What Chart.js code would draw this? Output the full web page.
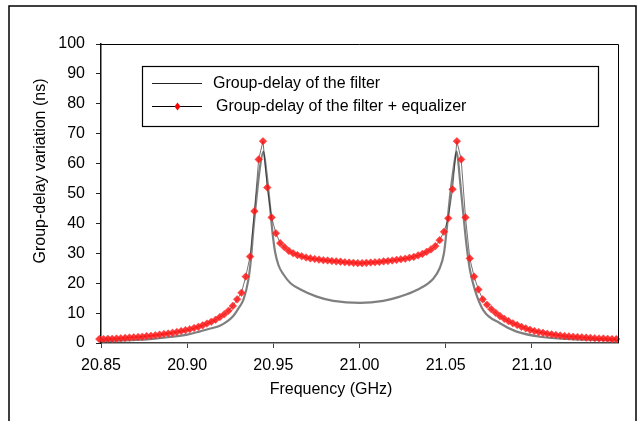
<!DOCTYPE html>
<html>
<head>
<meta charset="utf-8">
<script src="https://cdn.jsdelivr.net/npm/chart.js@4/dist/chart.umd.min.js"></script>
<style>
html,body{margin:0;padding:0;background:#fff;}
#wrap{position:relative;width:643px;height:421px;}
canvas{display:block;}
</style>
</head>
<body>
<div id="wrap"><canvas id="c" width="643" height="421"></canvas></div>
<script>
// ---- data ----
const xTitle = "Frequency (GHz)";
const yTitle = "Group-delay variation (ns)";
const seriesNames = ["Group-delay of the filter", "Group-delay of the filter + equalizer"];
const xTickValues = [20.85, 20.90, 20.95, 21.00, 21.05, 21.10];
const yTickValues = [0, 10, 20, 30, 40, 50, 60, 70, 80, 90, 100];

// filter alone (grey line)
const filterFreq = [20.85, 20.86, 20.87, 20.88, 20.89, 20.90, 20.907, 20.912, 20.919, 20.924, 20.927, 20.930, 20.9326, 20.9355, 20.937, 20.9384, 20.9403, 20.9423, 20.9442, 20.946, 20.948, 20.9495, 20.951, 20.953, 20.9558, 20.960, 20.9655, 20.9752, 20.9848, 21.0003, 21.0138, 21.0235, 21.0332, 21.0428, 21.0465, 21.049, 21.0506, 21.0525, 21.0545, 21.0564, 21.0583, 21.0602, 21.0622, 21.0641, 21.067, 21.0718, 21.0815, 21.0912, 21.1047, 21.1202, 21.1396, 21.15];
const filterDelay = [0.6, 0.8, 1.0, 1.4, 2.0, 2.8, 3.8, 4.6, 5.8, 7.6, 9.2, 11.8, 14.4, 21.1, 28.0, 37.8, 48.9, 59.0, 64.0, 57.0, 46.0, 37.0, 30.5, 26.0, 23.0, 20.0, 18.0, 15.5, 14.1, 13.4, 14.1, 15.5, 17.7, 21.5, 25.0, 30.0, 38.0, 48.9, 58.0, 64.0, 54.5, 43.4, 32.2, 24.4, 17.7, 11.0, 6.6, 3.8, 2.1, 1.4, 1.0, 0.8];

// filter + equalizer (red markers)
const eqFreq = [20.849, 20.8515, 20.854, 20.8565, 20.859, 20.8615, 20.864, 20.8665, 20.869, 20.8715,
 20.874, 20.8765, 20.879, 20.8815, 20.884, 20.8865, 20.889, 20.8915, 20.894, 20.8965,
 20.899, 20.9015, 20.904, 20.9065, 20.909, 20.9115, 20.914, 20.9165, 20.919, 20.9215,
 20.924, 20.9265, 20.929, 20.9315, 20.934, 20.9365, 20.939, 20.9415, 20.944, 20.9465,
 20.949, 20.9515, 20.954, 20.9565, 20.959, 20.9615, 20.964, 20.9665, 20.969, 20.9715,
 20.974, 20.9765, 20.979, 20.9815, 20.984, 20.9865, 20.989, 20.9915, 20.994, 20.9965,
 20.999, 21.0015, 21.004, 21.0065, 21.009, 21.0115, 21.014, 21.0165, 21.019, 21.0215,
 21.024, 21.0265, 21.029, 21.0315, 21.034, 21.0365, 21.039, 21.0415, 21.044, 21.0465,
 21.049, 21.0515, 21.054, 21.0565, 21.059, 21.0615, 21.064, 21.0665, 21.069, 21.0715,
 21.074, 21.0765, 21.079, 21.0815, 21.084, 21.0865, 21.089, 21.0915, 21.094, 21.0965,
 21.099, 21.1015, 21.104, 21.1065, 21.109, 21.1115, 21.114, 21.1165, 21.119, 21.1215,
 21.124, 21.1265, 21.129, 21.1315, 21.134, 21.1365, 21.139, 21.1415, 21.144, 21.1465, 21.149];
const eqDelay = [1.3, 1.3, 1.4, 1.4, 1.5, 1.6, 1.7, 1.8, 1.9, 2.0,
 2.1, 2.3, 2.4, 2.6, 2.8, 3.0, 3.2, 3.4, 3.7, 4.0,
 4.3, 4.6, 5.0, 5.4, 5.9, 6.5, 7.1, 7.8, 8.7, 9.6,
 10.8, 12.4, 14.6, 16.8, 22.2, 28.9, 44.1, 61.4, 67.5, 52.0,
 42.0, 36.7, 33.4, 32.0, 30.8, 30.0, 29.4, 29.0, 28.6, 28.3,
 28.1, 27.9, 27.7, 27.6, 27.4, 27.3, 27.2, 27.0, 26.9, 26.8,
 26.7, 26.7, 26.8, 26.9, 27.0, 27.1, 27.3, 27.4, 27.6, 27.8,
 28.0, 28.2, 28.5, 28.8, 29.3, 29.8, 30.5, 31.3, 32.4, 34.4,
 37.2, 41.7, 51.4, 67.5, 61.4, 42.0, 28.3, 22.2, 17.9, 14.6,
 12.8, 11.3, 10.1, 9.0, 8.1, 7.3, 6.6, 6.0, 5.4, 4.9,
 4.4, 4.0, 3.7, 3.4, 3.1, 2.9, 2.7, 2.5, 2.3, 2.2,
 2.1, 2.0, 1.9, 1.8, 1.7, 1.6, 1.5, 1.5, 1.4, 1.3, 1.3];

const FONT = "'Liberation Sans', Arial, Helvetica, sans-serif";

const frame = {
  id: 'frame',
  beforeDraw(chart) {
    const ctx = chart.ctx;
    ctx.save();
    ctx.fillStyle = '#fff';
    ctx.fillRect(0, 0, chart.width, chart.height);
    ctx.strokeStyle = '#000';
    ctx.lineWidth = 1.5;
    ctx.strokeRect(9, 6, 627, 440);
    ctx.restore();
  },
  afterDraw(chart) {
    const ctx = chart.ctx;
    const a = chart.chartArea;
    ctx.save();
    ctx.strokeStyle = '#000';
    ctx.lineWidth = 1;
    ctx.beginPath();
    ctx.moveTo(a.left, a.top + 0.5);
    ctx.lineTo(a.right + 0.5, a.top + 0.5);
    ctx.lineTo(a.right + 0.5, a.bottom);
    ctx.stroke();
    ctx.fillStyle = '#000';
    ctx.font = '16px ' + FONT;
    ctx.textAlign = 'center';
    ctx.textBaseline = 'middle';
    ctx.fillText(xTitle, 331, 390);
    ctx.translate(41, 171);
    ctx.rotate(-Math.PI / 2);
    ctx.fillText(yTitle, 0, 0);
    ctx.restore();

    // legend box
    ctx.save();
    ctx.fillStyle = '#fff';
    ctx.fillRect(142, 66, 457, 61);
    ctx.strokeStyle = '#000';
    ctx.lineWidth = 1.2;
    ctx.strokeRect(142.5, 66.5, 456, 60);
    ctx.font = '16px ' + FONT;
    ctx.textAlign = 'left';
    ctx.textBaseline = 'middle';
    ctx.fillStyle = '#000';
    ctx.strokeStyle = '#222';
    ctx.lineWidth = 1;
    ctx.beginPath(); ctx.moveTo(152, 83.5); ctx.lineTo(202, 83.5); ctx.stroke();
    ctx.fillText(chart.data.datasets[1].label, 213, 84);
    ctx.strokeStyle = '#000';
    ctx.beginPath(); ctx.moveTo(152, 106.5); ctx.lineTo(202, 106.5); ctx.stroke();
    ctx.fillStyle = '#ff0000';
    ctx.beginPath();
    ctx.moveTo(177.5, 102.5); ctx.lineTo(180.5, 106.5); ctx.lineTo(177.5, 110.5); ctx.lineTo(174.5, 106.5);
    ctx.closePath(); ctx.fill();
    ctx.fillStyle = '#000';
    ctx.fillText(chart.data.datasets[0].label, 216, 107);
    ctx.restore();
  }
};

new Chart(document.getElementById('c'), {
  type: 'scatter',
  data: {
    datasets: [
      {
        label: seriesNames[1],
        data: eqFreq.map((f, i) => ({x: f, y: eqDelay[i]})),
        showLine: true,
        borderColor: 'rgba(0,0,0,0.55)',
        borderWidth: 1,
        pointStyle: 'rectRot',
        pointRadius: 3.8,
        pointBackgroundColor: 'rgba(255,20,20,0.85)',
        pointBorderColor: 'rgba(255,60,60,0.5)',
        pointBorderWidth: 1,
        order: 1,
        clip: 6
      },
      {
        label: seriesNames[0],
        data: filterFreq.map((f, i) => ({x: f, y: filterDelay[i]})),
        showLine: true,
        borderColor: 'rgba(95,95,95,0.8)',
        borderWidth: 2.2,
        cubicInterpolationMode: 'monotone',
        pointRadius: 0,
        order: 2
      }
    ]
  },
  options: {
    responsive: false,
    animation: false,
    devicePixelRatio: 1,
    layout: { padding: { top: 44, right: 25, left: 0, bottom: 0 } },
    plugins: { legend: { display: false }, tooltip: { enabled: false } },
    scales: {
      x: {
        type: 'linear',
        min: 20.85,
        max: 21.15,
        afterFit(s) { s.height = 78; },
        afterBuildTicks(s) { s.ticks = xTickValues.map(v => ({value: v})); },
        ticks: {
          color: '#000',
          font: { family: FONT, size: 16 },
          padding: 8,
          maxRotation: 0,
          autoSkip: false,
          callback: v => Number(v).toFixed(2)
        },
        grid: { display: true, drawOnChartArea: false, drawTicks: true, tickLength: 5, color: '#444', lineWidth: 1 },
        border: { display: true, color: '#444', width: 1.5 }
      },
      y: {
        type: 'linear',
        min: 0,
        max: 100,
        afterFit(s) { s.width = 101; },
        afterBuildTicks(s) { s.ticks = yTickValues.map(v => ({value: v})); },
        ticks: {
          color: '#000',
          font: { family: FONT, size: 16 },
          padding: 11,
          autoSkip: false
        },
        grid: { display: true, drawOnChartArea: false, drawTicks: true, tickLength: 5, color: '#222', lineWidth: 1 },
        border: { display: true, color: '#111', width: 1.5 }
      }
    }
  },
  plugins: [frame]
});
</script>
</body>
</html>
